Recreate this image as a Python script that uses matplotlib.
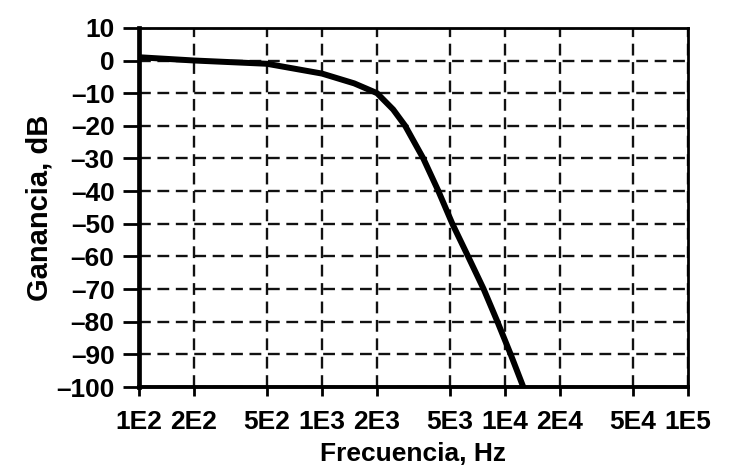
import matplotlib.pyplot as plt

plt.rcParams['font.family'] = ['Liberation Sans', 'DejaVu Sans']
plt.rcParams['font.weight'] = 'bold'
plt.rcParams['axes.labelweight'] = 'bold'

# frequency response
freq_hz = [100, 200, 500, 1000, 1500, 2000, 2450, 2850, 3580, 4330, 5160, 6290, 7650, 9100, 10750, 12600]
gain_db = [1, 0, -1, -4, -7, -10, -15, -20, -30, -40, -50, -60, -70, -80, -90, -100]

x_ticks = [1e2, 2e2, 5e2, 1e3, 2e3, 5e3, 1e4, 2e4, 5e4, 1e5]
x_labels = ['1E2', '2E2', '5E2', '1E3', '2E3', '5E3', '1E4', '2E4', '5E4', '1E5']
y_ticks = list(range(-100, 11, 10))

fig = plt.figure(figsize=(7.35, 4.72), dpi=100)
ax = fig.add_axes([0.189, 0.180, 0.747, 0.761])

ax.plot(freq_hz, gain_db, color='black', lw=4.3, solid_capstyle='butt', solid_joinstyle='round')

ax.set_xscale('log')
ax.set_xlim(1e2, 1e5)
ax.set_ylim(-100, 10)
ax.set_xticks(x_ticks)
ax.set_xticklabels(x_labels)
ax.xaxis.set_minor_locator(plt.NullLocator())
ax.set_yticks(y_ticks)
ax.set_yticklabels([str(v).replace('-', '\u2013') for v in y_ticks])

ax.grid(True, color='#111111', ls=(0, (5, 2.8)), lw=1.7)
ax.tick_params(axis='both', labelsize=19, width=2, color='black')
ax.tick_params(axis='x', direction='out', length=6.5, pad=10)
ax.tick_params(axis='y', direction='out', length=11.5, pad=6)

ax.spines['left'].set_linewidth(3.4)
ax.spines['bottom'].set_linewidth(2.8)
ax.spines['top'].set_linewidth(2)
ax.spines['right'].set_linewidth(2)

ax.set_xlabel('Frecuencia, Hz', fontsize=19, labelpad=6)
ax.set_ylabel('Ganancia, dB', fontsize=21, labelpad=2)

fig.savefig('out.png', dpi=100)
